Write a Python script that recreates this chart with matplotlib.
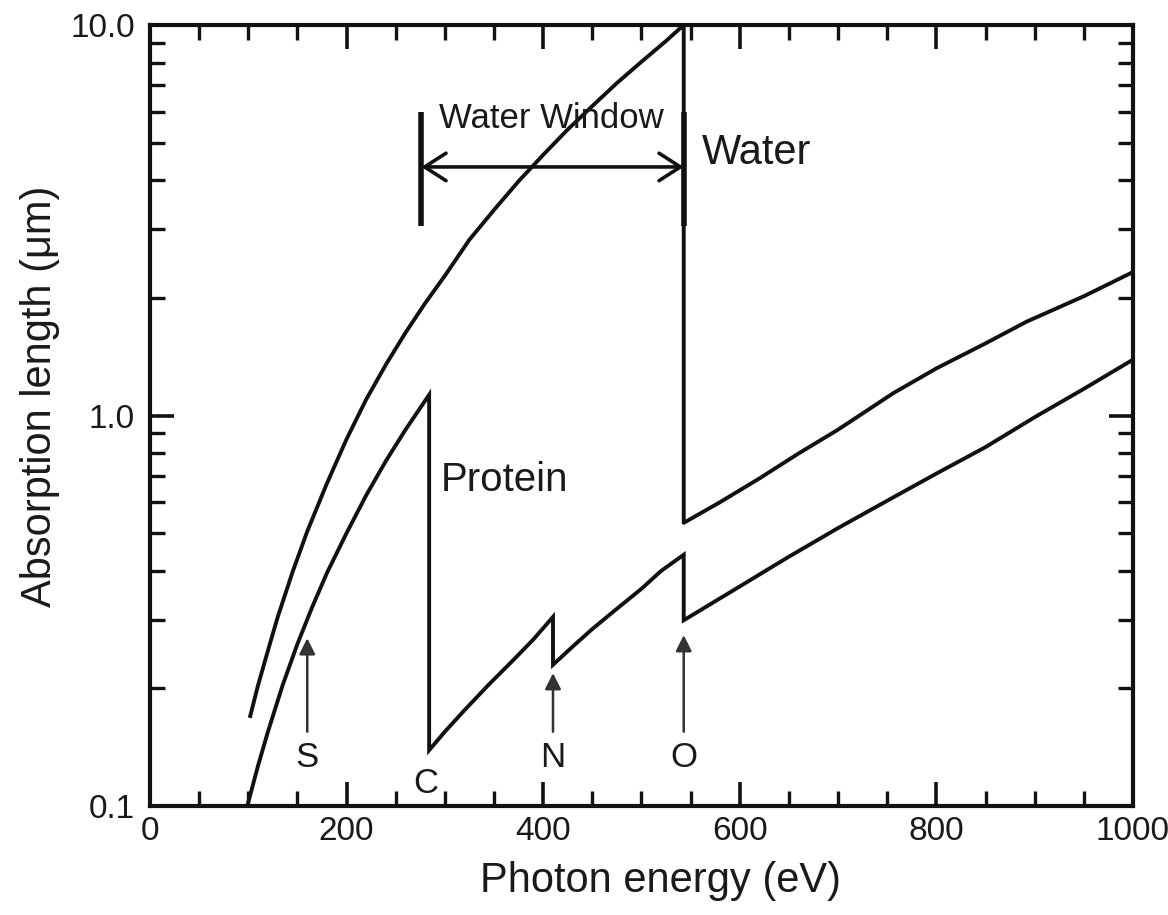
import matplotlib
matplotlib.use("Agg")
import matplotlib.pyplot as plt
import matplotlib.transforms as mtransforms
from matplotlib.ticker import MultipleLocator, FixedLocator, FixedFormatter, LogLocator, NullFormatter
from matplotlib.patches import FancyArrowPatch

plt.rcParams['font.family'] = ['Liberation Sans', 'DejaVu Sans']

# Absorption length of water (um) vs photon energy (eV); O K-edge at 543 eV
water_energy = [102, 110, 120, 130, 145, 160, 180, 200, 220, 240, 260, 280,
                300, 325, 350, 375, 400, 425, 450, 475, 500, 525, 543,
                543, 580, 620, 660, 700, 756, 800, 850, 892, 950, 1000]
water_length = [0.17, 0.204, 0.25, 0.305, 0.397, 0.505, 0.67, 0.87, 1.10, 1.35, 1.63, 1.94,
                2.28, 2.82, 3.36, 3.98, 4.65, 5.40, 6.20, 7.10, 8.05, 9.10, 10.0,
                0.531, 0.60, 0.69, 0.80, 0.92, 1.14, 1.32, 1.53, 1.74, 2.02, 2.33]

# Absorption length of protein with C, N and O K-edges
protein_energy = [99, 110, 120, 135, 150, 165, 180, 200, 220, 240, 260, 284,
                  284, 300, 320, 345, 370, 390, 410,
                  410, 430, 450, 475, 500, 520, 543,
                  543, 600, 650, 700, 750, 800, 850, 900, 950, 1000]
protein_length = [0.1, 0.127, 0.155, 0.204, 0.26, 0.323, 0.395, 0.50, 0.625, 0.765, 0.92, 1.13,
                  0.139, 0.155, 0.176, 0.205, 0.237, 0.267, 0.305,
                  0.23, 0.256, 0.284, 0.32, 0.36, 0.40, 0.44,
                  0.299, 0.365, 0.435, 0.515, 0.605, 0.71, 0.83, 0.99, 1.17, 1.39]

# element edge markers: label, energy, arrow tip
edge_labels = ['S', 'C', 'N', 'O']
edge_energy = [160, 281, 410, 543]
edge_tip = [0.269, None, 0.219, 0.274]

window_lo, window_hi = 276, 543

ink = '#111111'
txt = '#1a1a1a'

fig = plt.figure(figsize=(11.68, 9.15), dpi=100)
ax = fig.add_axes([0.1284, 0.1191, 0.8416, 0.8536])

ax.plot(water_energy, water_length, color=ink, lw=2.8, solid_joinstyle='round')
ax.plot(protein_energy, protein_length, color=ink, lw=2.8, solid_joinstyle='miter')

ax.set_yscale('log')
ax.set_xlim(0, 1000)
ax.set_ylim(0.1, 10)

# water window bars and double arrow
for xb in (window_lo, window_hi):
    ax.plot([xb, xb], [3.05, 6.0], color=ink, lw=4.0, solid_capstyle='butt')
ax.add_patch(FancyArrowPatch((window_lo, 4.33), (window_hi, 4.33),
                             arrowstyle='<->,head_length=0.7,head_width=0.45',
                             mutation_scale=22, color=ink, lw=2.6,
                             shrinkA=0, shrinkB=0))
ax.text(294, 5.75, 'Water Window', fontsize=25, color=txt, va='center', ha='left')
ax.text(561, 4.7, 'Water', fontsize=30, color=txt, va='center', ha='left')
ax.text(296, 0.684, 'Protein', fontsize=29, color=txt, va='center', ha='left')

# edge arrows and element letters
for lab, e, tip in zip(edge_labels, edge_energy, edge_tip):
    if tip is not None:
        ax.add_patch(FancyArrowPatch((e, 0.155), (e, tip),
                                     arrowstyle='-|>,head_length=0.6,head_width=0.3',
                                     mutation_scale=16, color='#333333', lw=1.8,
                                     shrinkA=0, shrinkB=0))
        ax.text(e, 0.133, lab, fontsize=25, color=txt, ha='center', va='center')
    else:
        ax.text(e, 0.114, lab, fontsize=25, color=txt, ha='center', va='center')

# axes styling
for sp in ax.spines.values():
    sp.set_linewidth(3.0)
    sp.set_color(ink)

ax.xaxis.set_major_locator(MultipleLocator(200))
ax.xaxis.set_minor_locator(MultipleLocator(50))
ax.yaxis.set_major_locator(FixedLocator([0.1, 1.0, 10.0]))
ax.yaxis.set_major_formatter(FixedFormatter(['0.1', '1.0', '10.0']))
ax.yaxis.set_minor_locator(LogLocator(base=10, subs=range(2, 10)))
ax.yaxis.set_minor_formatter(NullFormatter())

ax.tick_params(which='both', direction='in', top=True, right=True,
               color=ink, labelcolor=txt)
ax.tick_params(which='major', length=17, width=2.6, labelsize=24)
ax.tick_params(axis='x', which='major', pad=7)
ax.tick_params(axis='y', which='major', pad=11)
ax.tick_params(which='minor', length=11, width=2.4)

# nudge the last x label so it stays inside the figure
fig.canvas.draw()
last = ax.get_xticklabels()[-1]
last.set_transform(last.get_transform() +
                   mtransforms.ScaledTranslation(-7 / 100, 0, fig.dpi_scale_trans))

ax.set_xlabel('Photon energy (eV)', fontsize=30, color=txt)
ax.xaxis.set_label_coords(0.519, -0.07)
ax.set_ylabel('Absorption length (\u03bcm)', fontsize=30, color=txt)
ax.yaxis.label.set_va('center')
ax.yaxis.set_label_coords(-0.112, 0.525)

fig.savefig('out.png', dpi=100)
